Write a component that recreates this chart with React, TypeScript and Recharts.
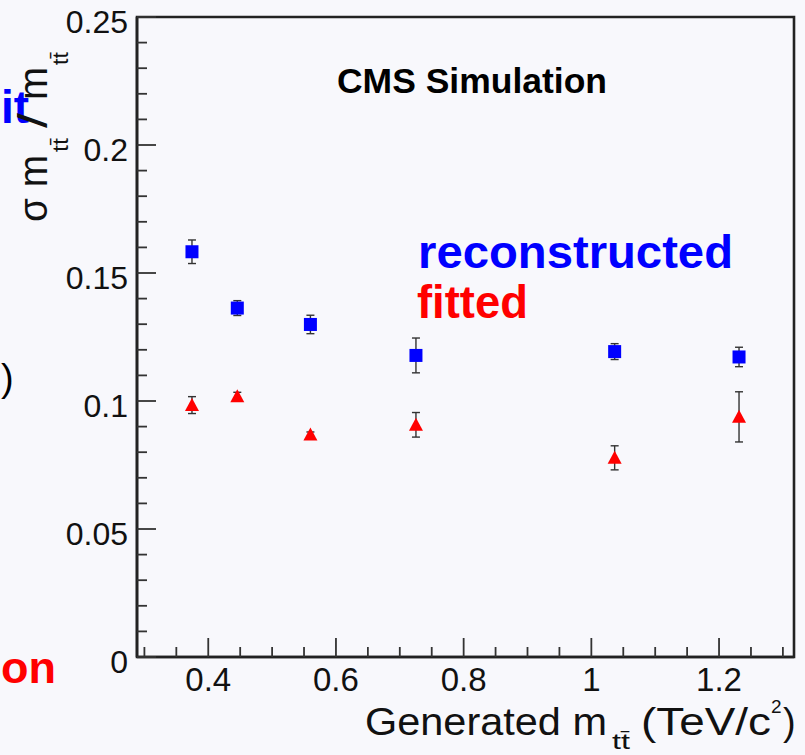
import React from "react";
import {
  ScatterChart,
  Scatter,
  XAxis,
  YAxis,
  ErrorBar,
  ReferenceArea,
} from "recharts";

// generated m_tt (TeV/c^2), one point per mass bin
const genMass = [0.3745, 0.4455, 0.56, 0.7253, 1.0365, 1.2313];

// sigma(m)/m, reconstructed and fitted
const recoRes = [0.1583, 0.1363, 0.1299, 0.1178, 0.1193, 0.1172];
const recoErr = [0.0046, 0.0029, 0.0036, 0.0068, 0.0031, 0.0038];
const fitRes = [0.0984, 0.1019, 0.0869, 0.0907, 0.0778, 0.0938];
const fitErr = [0.0033, 0.0015, 0.001, 0.0048, 0.0047, 0.0098];

const xMajor = [0.4, 0.6, 0.8, 1.0, 1.2];
const xMinor = [0.3, 0.35, 0.45, 0.5, 0.55, 0.65, 0.7, 0.75, 0.85, 0.9, 0.95, 1.05, 1.1, 1.15, 1.25, 1.3];
const yMajor = [0, 0.05, 0.1, 0.15, 0.2, 0.25];
const yMinor = [
  0.01, 0.02, 0.03, 0.04, 0.06, 0.07, 0.08, 0.09, 0.11, 0.12, 0.13, 0.14,
  0.16, 0.17, 0.18, 0.19, 0.21, 0.22, 0.23, 0.24,
];

const X_DOMAIN: [number, number] = [0.2884, 1.3174];
const Y_DOMAIN: [number, number] = [0, 0.25];

const BG = "#f8f8fc";
const FRAME = "#222";
const TICK = "#333";
const FONT = "'Liberation Sans', Arial, Helvetica, sans-serif";

const recoData = genMass.map((m, i) => ({ x: m, y: recoRes[i], err: recoErr[i] }));
const fitData = genMass.map((m, i) => ({ x: m, y: fitRes[i], err: fitErr[i] }));

const fmt = (v: number) => String(Number(v.toFixed(2)));

function makeTick(side: "bottom" | "top" | "left" | "right", majors: number[]) {
  return (props: any) => {
    const { x, y, payload } = props;
    const v = payload.value;
    const major = majors.some((m) => Math.abs(m - v) < 1e-6);
    const len = major ? 19 : 10;
    let line;
    if (side === "bottom") line = <line x1={x} y1={y} x2={x} y2={y - len} />;
    else if (side === "top") line = <line x1={x} y1={y} x2={x} y2={y + len} />;
    else if (side === "left") line = <line x1={x} y1={y} x2={x + len} y2={y} />;
    else line = <line x1={x} y1={y} x2={x - len} y2={y} />;

    let label = null;
    if (major && side === "bottom") {
      label = (
        <text x={x} y={y + 34} textAnchor="middle" fontSize={33} fontFamily={FONT} fill="#111" stroke="none">
          {fmt(v)}
        </text>
      );
    } else if (major && side === "left") {
      label = (
        <text x={x - 9} y={y + 16} textAnchor="end" fontSize={32} fontFamily={FONT} fill="#111" stroke="none">
          {fmt(v)}
        </text>
      );
    }
    return (
      <g>
        <g stroke={TICK} strokeWidth={1.8}>{line}</g>
        {label}
      </g>
    );
  };
}

const Square = (props: any) => {
  const { cx, cy } = props;
  return <rect x={cx - 6.5} y={cy - 6.5} width={13} height={13} fill="#0000ff" />;
};

const Triangle = (props: any) => {
  const { cx, cy } = props;
  return (
    <polygon
      points={`${cx},${cy - 7} ${cx + 7},${cy + 6} ${cx - 7},${cy + 6}`}
      fill="#ff0000"
    />
  );
};

export default function App() {
  const axisLine = { stroke: FRAME, strokeWidth: 2.6 };
  return (
    <div style={{ position: "absolute", left: 0, top: 0, width: 805, height: 755, background: BG, overflow: "hidden" }}>
      <ScatterChart width={805} height={755} margin={{ top: 17, right: 11, bottom: 0, left: 0 }}>
        <XAxis
          xAxisId="bottom"
          type="number"
          dataKey="x"
          domain={X_DOMAIN}
          allowDataOverflow
          ticks={[...xMajor, ...xMinor]}
          interval={0}
          height={98}
          tickSize={0}
          tickMargin={0}
          stroke={FRAME}
          axisLine={axisLine}
          tickLine={false}
          tick={makeTick("bottom", xMajor)}
        />
        <XAxis
          xAxisId="top"
          orientation="top"
          type="number"
          dataKey="x"
          domain={X_DOMAIN}
          allowDataOverflow
          ticks={[...xMajor, ...xMinor]}
          interval={0}
          height={0}
          tickSize={0}
          tickMargin={0}
          stroke={FRAME}
          axisLine={axisLine}
          tickLine={false}
          tick={makeTick("top", xMajor)}
        />
        <YAxis
          yAxisId="left"
          type="number"
          dataKey="y"
          domain={Y_DOMAIN}
          allowDataOverflow
          ticks={[...yMajor, ...yMinor]}
          interval={0}
          width={137}
          tickSize={0}
          tickMargin={0}
          stroke={FRAME}
          axisLine={axisLine}
          tickLine={false}
          tick={makeTick("left", yMajor)}
        />
        <YAxis
          yAxisId="right"
          orientation="right"
          type="number"
          dataKey="y"
          domain={Y_DOMAIN}
          allowDataOverflow
          ticks={[...yMajor, ...yMinor]}
          interval={0}
          width={0}
          tickSize={0}
          tickMargin={0}
          stroke={FRAME}
          axisLine={axisLine}
          tickLine={false}
          tick={makeTick("right", yMajor)}
        />
        {/* the ROOT frame box */}
        <ReferenceArea
          xAxisId="bottom"
          yAxisId="left"
          x1={X_DOMAIN[0]}
          x2={X_DOMAIN[1]}
          y1={Y_DOMAIN[0]}
          y2={Y_DOMAIN[1]}
          ifOverflow="visible"
          fill="none"
          fillOpacity={0}
          stroke={FRAME}
          strokeWidth={2.6}
          strokeOpacity={1}
        />
        <Scatter
          name="reconstructed"
          data={recoData}
          xAxisId="bottom"
          yAxisId="left"
          shape={Square}
          isAnimationActive={false}
        >
          <ErrorBar dataKey="err" direction="y" width={4} stroke="#333" strokeWidth={1.4} />
        </Scatter>
        <Scatter
          name="fitted"
          data={fitData}
          xAxisId="bottom"
          yAxisId="left"
          shape={Triangle}
          isAnimationActive={false}
        >
          <ErrorBar dataKey="err" direction="y" width={4} stroke="#333" strokeWidth={1.4} />
        </Scatter>
      </ScatterChart>

      <svg
        width={805}
        height={755}
        style={{ position: "absolute", left: 0, top: 0, pointerEvents: "none" }}
        fontFamily={FONT}
      >
        <text x={337} y={93} fontSize={35} fontWeight="bold" fill="#000" textLength={270} lengthAdjust="spacingAndGlyphs">
          CMS Simulation
        </text>
        <text x={418} y={268} fontSize={47} fontWeight="bold" fill="#0000ff" textLength={315} lengthAdjust="spacingAndGlyphs">
          reconstructed
        </text>
        <text x={417} y={318} fontSize={47} fontWeight="bold" fill="#ff0000" textLength={111} lengthAdjust="spacingAndGlyphs">
          fitted
        </text>

        {/* neighbouring panel, at the left edge */}
        <text x={1} y={123} fontSize={46} fontWeight="bold" fill="#0000ff">it</text>
        <text x={1} y={391} fontSize={38} fill="#000">)</text>
        <text x={1} y={683} fontSize={45} fontWeight="bold" fill="#ff0000">on</text>

        {/* x title */}
        <text x={365} y={735} fontSize={38} fill="#111" textLength={242} lengthAdjust="spacingAndGlyphs">Generated m</text>
        <text x={612} y={749} fontSize={22} fill="#111" textLength={18} lengthAdjust="spacingAndGlyphs">t{"t\u0304"}</text>
        <text x={641} y={735} fontSize={38} fill="#111" textLength={130} lengthAdjust="spacingAndGlyphs">(TeV/c</text>
        <text x={771} y={713} fontSize={19} fill="#111">2</text>
        <text x={783} y={735} fontSize={38} fill="#111">)</text>

        {/* y title */}
        <g transform="rotate(-90)">
          <text x={-222} y={47} fontSize={40} fill="#111" textLength={67} lengthAdjust="spacingAndGlyphs">σ m</text>
          <text x={-152} y={68} fontSize={22} fill="#111" textLength={14} lengthAdjust="spacingAndGlyphs">t{"t\u0304"}</text>
          <text x={-128} y={47} fontSize={40} fill="#111" textLength={15} lengthAdjust="spacingAndGlyphs">/</text>
          <text x={-100} y={47} fontSize={40} fill="#111" textLength={33} lengthAdjust="spacingAndGlyphs">m</text>
          <text x={-65} y={68} fontSize={22} fill="#111" textLength={13} lengthAdjust="spacingAndGlyphs">t{"t\u0304"}</text>
        </g>
      </svg>
    </div>
  );
}
